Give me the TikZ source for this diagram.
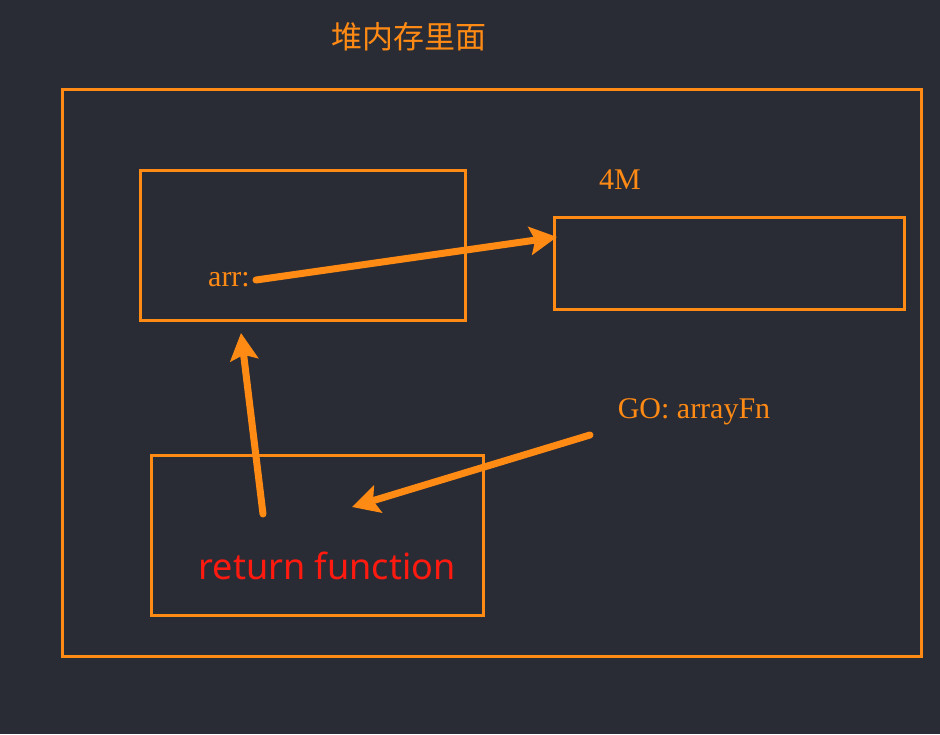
\documentclass[tikz,border=0pt]{standalone}
\usepackage{fontspec}
\setmainfont{Liberation Serif}
\newfontfamily\cjkfont{Noto Sans CJK SC}
\newfontfamily\labelsans{Noto Sans}
\usetikzlibrary{arrows.meta}

\definecolor{bgdark}{HTML}{2A2C35}
\definecolor{memorange}{HTML}{FF8A14}
\definecolor{retred}{HTML}{FF1A10}

\tikzset{
    heapbox/.style={draw=memorange, line width=3pt, minimum width=#1},
    heaptext/.style={text=memorange, inner sep=0pt, font=\fontsize{30}{34}\selectfont},
    refarrow/.style={draw=memorange, line width=7pt, line cap=round,
        -{Stealth[length=27pt, width=28pt, inset=5pt]}}
}

\begin{document}
\begin{tikzpicture}[x=1pt, y=-1pt] % heap memory
\fill[bgdark] (0,0) rectangle (940,734);
\useasboundingbox (0,0) rectangle (940,734);

\node[heaptext, font=\cjkfont\fontsize{31}{36}\selectfont] (title) at (409,37) {堆内存里面};

\node[heapbox=859pt, minimum height=567pt] (heap) at (491.5,372.5) {};
\node[heapbox=325pt, minimum height=150pt] (scope) at (302.5,245) {};
\node[heapbox=350pt, minimum height=92pt] (block) at (729,263) {};
\node[heapbox=332pt, minimum height=160pt] (fnbox) at (317,535) {};

\node[heaptext] (arr) at (229,280) {arr:};
\node[heaptext] (size) at (620,180) {4M};
\node[heaptext] (go) at (694,412) {GO: arrayFn};
\node[text=retred, inner sep=0pt, font=\labelsans\fontsize{36}{40}\selectfont] (ret) at (327,566) {return function};

\coordinate (blockin) at (557,237);
\coordinate (retup) at (263,514);
\coordinate (scopeup) at (241,333);
\coordinate (fnin) at (352,507);
\coordinate (gofrom) at (590,435);

\draw[refarrow] ([xshift=6pt]arr.east) -- (blockin);
\draw[refarrow] (retup) -- (scopeup);
\draw[refarrow] (gofrom) -- (fnin);
\end{tikzpicture}
\end{document}
